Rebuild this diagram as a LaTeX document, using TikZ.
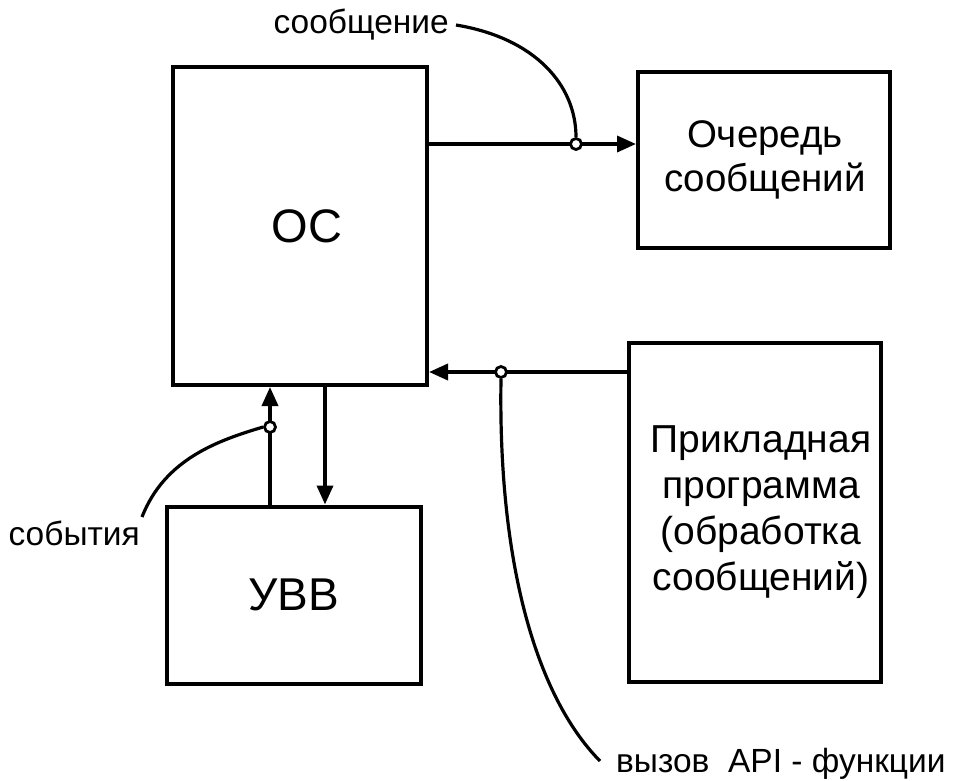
\documentclass[tikz,border=0pt]{standalone}
\usepackage{fontspec}
\setmainfont{Liberation Sans}
\usetikzlibrary{arrows.meta}
\begin{document}
\begin{tikzpicture}[x=1pt,y=-1pt,
  box/.style={draw=black,line width=4pt,inner sep=0pt,align=center},
  arr/.style={line width=3.6pt,-{Triangle[length=19pt,width=16pt]}},
  lead/.style={line width=3.2pt},
  dot/.style={circle,draw=black,fill=white,line width=2.8pt,minimum size=11pt,inner sep=0pt},
  lbl/.style={font=\fontsize{33.5}{38}\selectfont,inner sep=0pt}]
\useasboundingbox (0,0) rectangle (954,780);
\node[box,minimum width=254pt,minimum height=318pt,font=\fontsize{47}{56}\selectfont] (os) at (300,226) {\hspace*{14pt}ОС};
\node[box,minimum width=252pt,minimum height=176pt,font=\fontsize{38.5}{44}\selectfont] (q) at (764,160) {\hspace*{2pt}Очередь\\\hspace*{2pt}сообщений};
\node[box,minimum width=252pt,minimum height=339pt,font=\fontsize{39}{46}\selectfont] (app) at (755,512.5) {\hspace*{12pt}Прикладная\\\hspace*{12pt}программа\\\hspace*{12pt}(обработка\\\hspace*{12pt}сообщений)};
\node[box,minimum width=254pt,minimum height=177pt,font=\fontsize{46}{55}\selectfont] (io) at (294,595) {УВВ};
% connectors
\coordinate (y1) at (0,144);
\coordinate (y2) at (0,372);
\coordinate (x1) at (270,0);
\coordinate (x2) at (325,0);
\draw[arr] (os.east |- y1) -- (q.west |- y1);
\draw[arr] (app.west |- y2) -- (os.east |- y2);
\draw[arr] (io.north -| x1) -- (os.south -| x1);
\draw[arr] (os.south -| x2) -- (io.north -| x2);
% labels
\node[lbl,anchor=base east] (l1) at (449,33) {сообщение};
\node[lbl,anchor=base east] (l2) at (140,545) {события};
\node[lbl,anchor=base west] (l3) at (616,772) {вызов\ \ API - функции};
\coordinate (s1) at (456,25);
\coordinate (s2) at (142,517);
\coordinate (s3) at (600,761);
% leader curves
\node[dot] (c1) at (576,144) {};
\node[dot] (c2) at (501,372) {};
\node[dot] (c3) at (270,427) {};
\draw[lead] (s1) .. controls (535,38) and (576,85) .. (c1.north);
\draw[lead] (s2) .. controls (165,458) and (220,440) .. (c3.west);
\draw[lead] (c2.south) .. controls (498,560) and (535,695) .. (s3);
\end{tikzpicture}
\end{document}
